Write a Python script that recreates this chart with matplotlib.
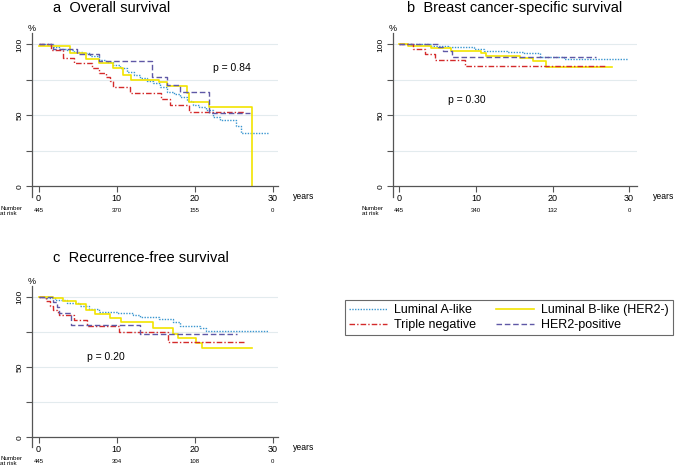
import matplotlib
matplotlib.use("Agg")
import matplotlib.pyplot as plt
from matplotlib.lines import Line2D

plt.rcParams['font.family'] = ['Liberation Sans', 'DejaVu Sans']

# group names and styles
GROUPS = ["Luminal A-like", "Luminal B-like (HER2-)", "Triple negative", "HER2-positive"]
COLORS = ["#3a96d0", "#f2e400", "#d42a2a", "#5f58a6"]

# a  Overall survival (time in years, survival in %)
OS_LUMA_T = [0, 1.8, 2.6, 3.6, 4.6, 5.7, 6.6, 7.8, 8.6, 9.5, 10.4, 11.3, 12.2, 13.0, 13.9, 14.7,
             15.6, 16.4, 17.3, 18.1, 19.0, 19.8, 20.6, 21.5, 22.4, 23.2, 25.3, 26.0, 29.4]
OS_LUMA_S = [100, 98, 97, 96, 95, 93.9, 91.5, 89.2, 87.3, 85.2, 83.2, 80.9, 78.5, 76.2, 74.5, 72.7,
             69.8, 66.8, 65, 63.3, 60.3, 57.4, 55.6, 53.9, 49.2, 46.8, 42.6, 37.9, 37.9]
OS_LUMB_T = [0, 1.4, 4.0, 6.1, 7.8, 9.5, 10.8, 11.9, 15.5, 16.4, 19.0, 19.3, 21.8, 27.4, 27.4]
OS_LUMB_S = [99, 98.6, 93.9, 89.6, 86.8, 83.3, 78.6, 75, 73.2, 70.8, 65.6, 59.8, 56.2, 56.2, 0]
OS_TN_T = [0, 1.6, 3.1, 4.6, 6.8, 7.8, 8.6, 9.1, 9.6, 11.7, 15.7, 16.8, 19.3, 26.4]
OS_TN_S = [100, 96.2, 90.4, 86.8, 83.3, 80.2, 76.9, 73.9, 69.9, 65.6, 61.4, 57.2, 52.7, 52.7]
OS_HER2_T = [0, 1.8, 4.9, 7.8, 14.6, 16.4, 18.1, 21.8, 27.1]
OS_HER2_S = [100, 96.7, 93.2, 88.5, 77.4, 71.5, 66.6, 51.5, 51.5]

# b  Breast cancer-specific survival
BCSS_LUMA_T = [0, 4.2, 6.3, 9.8, 11.1, 14.1, 16.3, 18.4, 20.2, 21.5, 29.9]
BCSS_LUMA_S = [100, 98.8, 97.9, 96.7, 95.3, 94.6, 93.7, 91.3, 90.8, 89.4, 89.4]
BCSS_LUMB_T = [0, 1.2, 4.2, 6.8, 10.7, 11.3, 15.8, 17.4, 19.1, 27.7]
BCSS_LUMB_S = [100, 99, 97.2, 95.3, 93.7, 92, 90.6, 88, 84.3, 84.3]
BCSS_TN_T = [0, 1.8, 3.3, 4.7, 8.6, 26.8]
BCSS_TN_S = [100, 96.7, 93.2, 89, 85, 85]
BCSS_HER2_T = [0, 5.0, 5.7, 6.9, 25.7]
BCSS_HER2_S = [100, 98.4, 95.3, 91.3, 91.3]

# c  Recurrence-free survival
RFS_LUMA_T = [0, 0.8, 2.1, 3.6, 5.3, 6.5, 7.8, 10.0, 12.1, 13.0, 15.5, 17.2, 18.1, 20.7, 21.5, 29.4]
RFS_LUMA_S = [100, 99.3, 97.7, 95.3, 93.4, 91.1, 89.2, 88.3, 86.9, 85.5, 84.1, 82.2, 78.9, 77.8, 75.9, 75.9]
RFS_LUMB_T = [0, 1.8, 3.1, 4.8, 6.1, 7.2, 9.1, 10.6, 14.7, 17.2, 17.9, 20.2, 20.9, 27.4]
RFS_LUMB_S = [100, 98.8, 97.2, 94.8, 90.6, 87.8, 84.8, 82.4, 77.8, 73.8, 70.7, 67.2, 63.7, 63.7]
RFS_TN_T = [0, 0.9, 1.4, 1.8, 2.4, 2.6, 4.6, 6.2, 10.3, 16.6, 26.4]
RFS_TN_S = [100, 97.2, 93.4, 90.6, 89.5, 87.1, 83.6, 79.4, 74.7, 67.9, 67.9]
RFS_HER2_T = [0, 1.8, 2.3, 2.6, 4.1, 13.0, 25.4]
RFS_HER2_S = [100, 96.5, 92.5, 88.8, 79.9, 73.5, 73.5]

AT_RISK_OS = ["445", "370", "155", "0"]
AT_RISK_BCSS = ["445", "340", "132", "0"]
AT_RISK_RFS = ["445", "304", "108", "0"]
RISK_YEARS = [0, 10, 20, 30]

STYLES = [
    dict(linestyle=(0, (1, 1)), linewidth=1.0),
    dict(linestyle="-", linewidth=1.2),
    dict(linestyle=(0, (4, 1.5, 1, 1.5)), linewidth=1.0),
    dict(linestyle=(0, (4, 2)), linewidth=1.0),
]


def draw_panel(ax, curves, at_risk, title, title_xy, ptext, pxy, xmax, years_x):
    for i, (t, s) in enumerate(curves):
        ax.step(t, s, where="post", color=COLORS[i], **STYLES[i])
    ax.set_xlim(-0.85, xmax)
    ax.set_ylim(-7.3, 108)
    for g in [25, 50, 75, 100]:
        ax.axhline(g, color="#e3ebee", linewidth=0.8, zorder=0)
    for side in ["top", "right"]:
        ax.spines[side].set_visible(False)
    ax.spines["bottom"].set_position(("data", 0))
    for side in ["left", "bottom"]:
        ax.spines[side].set_color("#555555")
        ax.spines[side].set_linewidth(0.9)
    ax.set_xticks([0, 10, 20, 30])
    ax.set_yticks([0, 25, 50, 75, 100])
    ax.set_yticklabels(["0", "", "50", "", "100"], rotation=90, va="center")
    ax.tick_params(axis="x", labelsize=6.5, length=4, color="#555555", pad=1.5)
    ax.tick_params(axis="y", labelsize=6, length=4, color="#555555", pad=2)
    ax.text(-0.9, 111, "%", fontsize=6.5, ha="center", va="center", clip_on=False)
    ax.text(years_x, -7.3, "years", fontsize=6.2, ha="left", va="center", clip_on=False)
    ax.text(pxy[0], pxy[1], ptext, fontsize=7.5, ha="left", va="center")
    tr = ax.get_xaxis_transform()
    ax.text(-4.9, -0.085, "Number\nat risk", fontsize=4.5, ha="left", va="center",
            linespacing=1.0, transform=tr, clip_on=False)
    for x, n in zip(RISK_YEARS, at_risk):
        ax.text(x, -0.085, n, fontsize=4.3, ha="center", va="center", transform=tr,
                clip_on=False)
    ax.figure.text(title_xy[0], title_xy[1], title, fontsize=10.5, ha="left", va="center")


fig = plt.figure(figsize=(6.76, 4.72), dpi=100)

ax_a = fig.add_axes([0.0473, 0.583, 0.364, 0.347])
ax_b = fig.add_axes([0.581, 0.583, 0.361, 0.347])
ax_c = fig.add_axes([0.0473, 0.052, 0.364, 0.343])

draw_panel(ax_a,
           [(OS_LUMA_T, OS_LUMA_S), (OS_LUMB_T, OS_LUMB_S), (OS_TN_T, OS_TN_S), (OS_HER2_T, OS_HER2_S)],
           AT_RISK_OS, "a  Overall survival", (0.078, 0.983), "p = 0.84", (22.3, 83.5), 30.7, 32.6)
draw_panel(ax_b,
           [(BCSS_LUMA_T, BCSS_LUMA_S), (BCSS_LUMB_T, BCSS_LUMB_S), (BCSS_TN_T, BCSS_TN_S),
            (BCSS_HER2_T, BCSS_HER2_S)],
           AT_RISK_BCSS, "b  Breast cancer-specific survival", (0.602, 0.983), "p = 0.30", (6.4, 60.8),
           31.0, 33.1)
draw_panel(ax_c,
           [(RFS_LUMA_T, RFS_LUMA_S), (RFS_LUMB_T, RFS_LUMB_S), (RFS_TN_T, RFS_TN_S),
            (RFS_HER2_T, RFS_HER2_S)],
           AT_RISK_RFS, "c  Recurrence-free survival", (0.078, 0.453), "p = 0.20", (6.2, 57.3),
           30.7, 32.6)

# legend (column-wise so that A-like / Triple negative are on the left)
handles = [Line2D([], [], color=COLORS[i], **STYLES[i]) for i in range(4)]
order = [0, 2, 1, 3]
leg = fig.legend([handles[i] for i in order], [GROUPS[i] for i in order], ncol=2,
                 loc="upper left", bbox_to_anchor=(345 / 676, 1 - 300 / 472),
                 fontsize=9, frameon=True, fancybox=False, handlelength=3.0,
                 handletextpad=0.6, columnspacing=1.6, borderpad=0.35, labelspacing=0.2,
                 borderaxespad=0)
leg.get_frame().set_edgecolor("#444444")
leg.get_frame().set_linewidth(0.8)

fig.savefig("out.png", dpi=100)
